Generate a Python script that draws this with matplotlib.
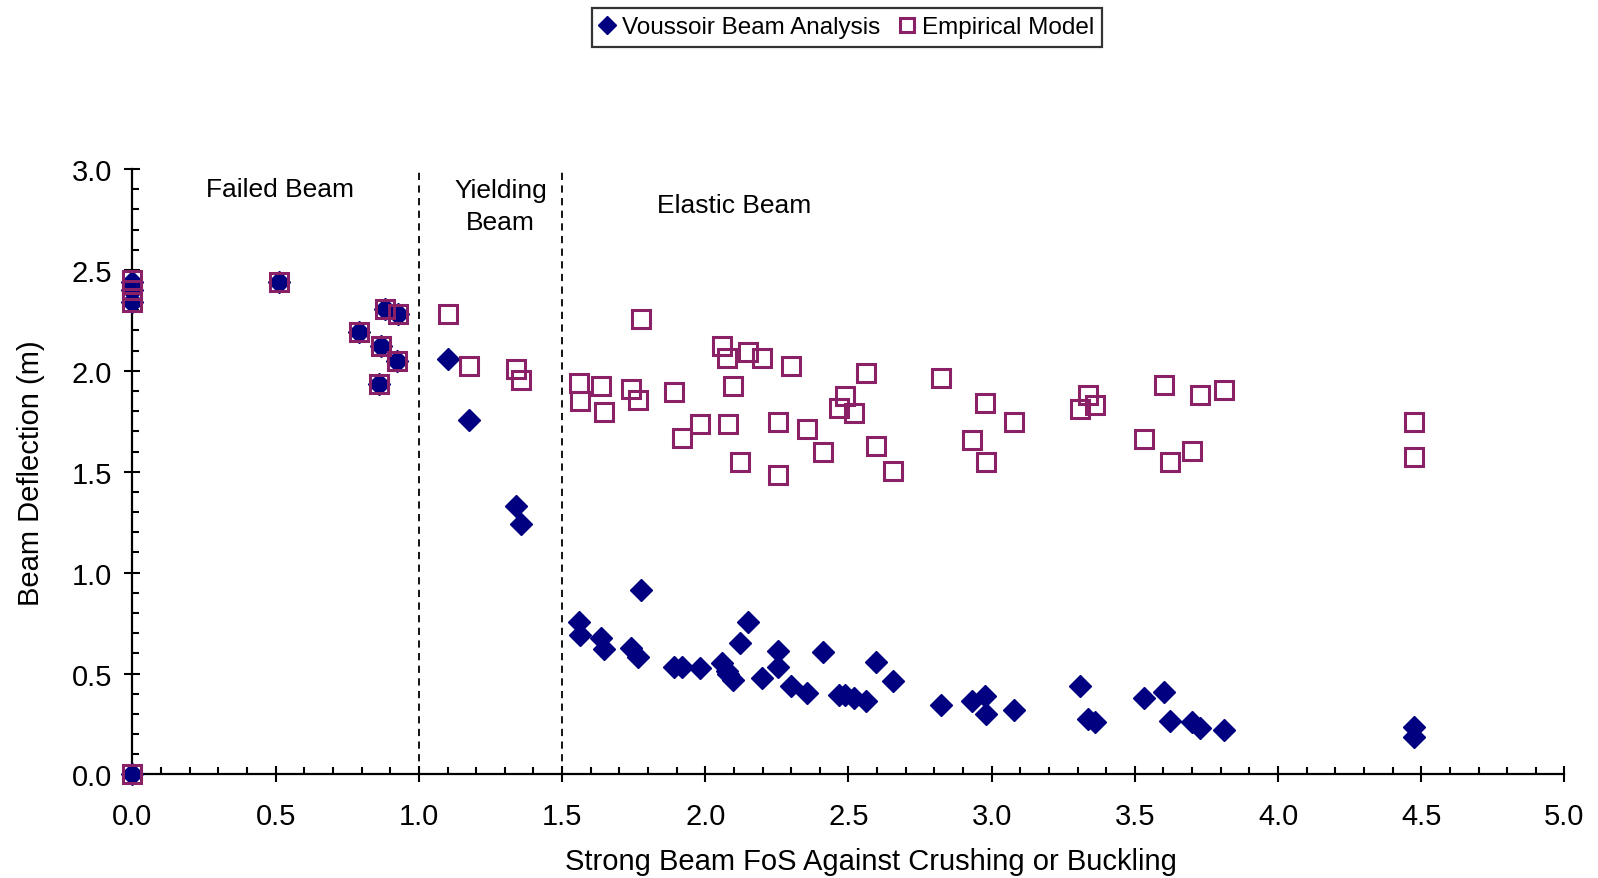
import numpy as np
import matplotlib
matplotlib.use('Agg')
import matplotlib.pyplot as plt
from matplotlib.ticker import MultipleLocator, FormatStrFormatter

plt.rcParams['font.family'] = ['Liberation Sans', 'DejaVu Sans']

#### DATA ####
# strong beam FoS (shared by both series)
fos = [0.0, 0.0, 0.0, 0.0, 0.513, 0.79, 0.862, 0.868, 0.88, 0.924, 0.927,
       1.10, 1.175, 1.34, 1.357,
       1.558, 1.564, 1.635, 1.648, 1.739, 1.766, 1.775, 1.89, 1.919, 1.98,
       2.059, 2.077, 2.08, 2.096, 2.122, 2.15, 2.199, 2.253, 2.254, 2.301,
       2.354, 2.41, 2.466, 2.487, 2.52, 2.56, 2.595, 2.656, 2.824, 2.93,
       2.977, 2.979, 3.078, 3.307, 3.335, 3.362, 3.533, 3.601, 3.622, 3.699,
       3.729, 3.81, 4.473, 4.473]
voussoir = [0.0, 2.44, 2.34, 2.40, 2.44, 2.19, 1.934, 2.125, 2.307, 2.05, 2.28,
            2.06, 1.758, 1.332, 1.24,
            0.757, 0.691, 0.678, 0.622, 0.625, 0.581, 0.914, 0.531, 0.531, 0.526,
            0.551, 0.514, 0.50, 0.468, 0.652, 0.754, 0.478, 0.531, 0.61, 0.44,
            0.402, 0.605, 0.394, 0.394, 0.379, 0.366, 0.559, 0.465, 0.344, 0.366,
            0.39, 0.30, 0.32, 0.437, 0.275, 0.259, 0.381, 0.407, 0.267, 0.259,
            0.229, 0.222, 0.234, 0.187]
empirical = [0.0, 2.45, 2.34, 2.40, 2.44, 2.19, 1.934, 2.125, 2.307, 2.05, 2.28,
             2.28, 2.023, 2.01, 1.956,
             1.938, 1.852, 1.924, 1.798, 1.909, 1.854, 2.257, 1.894, 1.666, 1.735,
             2.125, 2.062, 1.735, 1.924, 1.547, 2.095, 2.062, 1.484, 1.748, 2.023,
             1.712, 1.60, 1.818, 1.874, 1.79, 1.988, 1.626, 1.505, 1.965, 1.658,
             1.842, 1.55, 1.748, 1.81, 1.88, 1.831, 1.661, 1.932, 1.547, 1.605,
             1.879, 1.904, 1.748, 1.575]

zones = [1.0, 1.5]
zone_labels = ['Failed Beam', 'Yielding\nBeam', 'Elastic Beam']
zone_pos = [(0.516, 2.90), (1.285, 2.818), (2.10, 2.82)]

navy = '#000080'
plum = '#8A2065'

#### PLOT ####
fig = plt.figure(figsize=(15.98, 8.79), dpi=100)
ax = fig.add_axes([0.0829, 0.1178, 0.8961, 0.6888])

ax.plot(fos, voussoir, linestyle='none', marker='D', ms=11, color=navy,
        mec=navy, clip_on=False, zorder=3, label='Voussoir Beam Analysis')
ax.plot(fos, empirical, linestyle='none', marker='s', ms=12.5, mfc='none',
        mec=plum, mew=2.2, clip_on=False, zorder=4, label='Empirical Model')

for z in zones:
    ax.plot([z, z], [0, 3.0], color='black', lw=1.3, dashes=(4, 3), zorder=2)

ax.text(*zone_pos[0], zone_labels[0], ha='center', va='center', fontsize=19)
ax.text(*zone_pos[1], zone_labels[1], ha='center', va='center', fontsize=19,
        linespacing=1.4)
ax.text(*zone_pos[2], zone_labels[2], ha='center', va='center', fontsize=19)

ax.set_xlim(0, 5)
ax.set_ylim(0, 3)
for s in ['top', 'right']:
    ax.spines[s].set_visible(False)
for s in ['left', 'bottom']:
    ax.spines[s].set_linewidth(1.6)

ax.xaxis.set_major_locator(MultipleLocator(0.5))
ax.xaxis.set_minor_locator(MultipleLocator(0.1))
ax.yaxis.set_major_locator(MultipleLocator(0.5))
ax.yaxis.set_minor_locator(MultipleLocator(0.1))
ax.xaxis.set_major_formatter(FormatStrFormatter('%.1f'))
ax.yaxis.set_major_formatter(FormatStrFormatter('%.1f'))

ax.tick_params(axis='x', which='major', direction='inout', length=11.5,
               width=1.5, labelsize=21, pad=14)
ax.tick_params(axis='y', which='major', direction='inout', length=11.5,
               width=1.5, labelsize=21, pad=9)
ax.tick_params(which='minor', direction='in', length=5, width=1.5)

ax.set_xlabel('Strong Beam FoS Against Crushing or Buckling', fontsize=21,
              labelpad=12)
ax.xaxis.label.set_x(0.516)
ax.set_ylabel('Beam Deflection (m)', fontsize=21, labelpad=19)

leg = fig.legend(loc='center', bbox_to_anchor=(0.530, 0.968), ncol=2,
                 fontsize=17.5, frameon=True, fancybox=False, shadow=False,
                 edgecolor='black', handlelength=0.6, handletextpad=0.3,
                 columnspacing=0.8, borderpad=0.35, markerscale=0.8)
leg.get_frame().set_linewidth(1.6)

fig.savefig('out.png', dpi=100)
